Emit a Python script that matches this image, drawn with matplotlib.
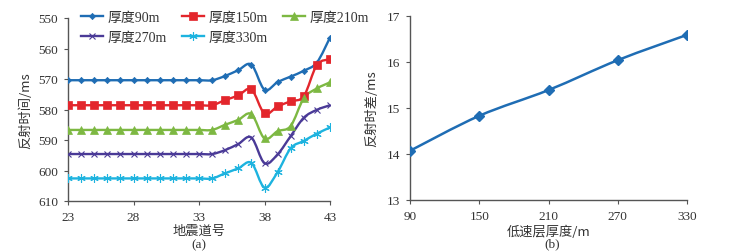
import matplotlib
matplotlib.use("Agg")
import matplotlib.pyplot as plt
import numpy as np
from matplotlib.path import Path
from matplotlib.patches import PathPatch
from matplotlib.lines import Line2D

# ---- data ----
traces = list(range(23, 44))
t90 = [570.4] * 12 + [569.0, 567.1, 565.3, 573.5, 571.0, 569.2, 567.3, 564.6, 556.4]
t150 = [578.6] * 12 + [576.9, 575.4, 573.4, 581.3, 579.0, 577.3, 575.6, 565.4, 563.5]
t210 = [586.7] * 12 + [585.0, 583.4, 581.5, 589.5, 587.1, 585.4, 576.3, 573.1, 571.1]
t270 = [594.6] * 12 + [593.3, 591.3, 589.2, 597.6, 594.7, 588.7, 582.7, 580.1, 578.6]
t330 = [602.6] * 12 + [600.9, 599.3, 597.5, 605.6, 600.5, 592.7, 590.3, 587.9, 585.9]
series_labels = ["厚度90m", "厚度150m", "厚度210m", "厚度270m", "厚度330m"]

thickness = [90, 150, 210, 270, 330]
diff = [14.07, 14.83, 15.39, 16.04, 16.59]

colors = ["#1f6db4", "#e3262c", "#7db842", "#4a3a97", "#1db3df"]
markers = ["D", "s", "^", "x", (6, 2, 0)]
msizes = [3.2, 6, 5.5, 5, 6]
mews = [0.5, 0.5, 0.5, 0.8, 0.8]

SERIF = ["Liberation Serif", "Noto Sans CJK SC"]
CJK = ["Noto Sans CJK SC", "Liberation Serif"]


def smooth_path(x, y):
    x = np.asarray(x, float)
    y = np.asarray(y, float)
    px = np.concatenate([[x[0]], x, [x[-1]]])
    py = np.concatenate([[y[0]], y, [y[-1]]])
    verts = [(x[0], y[0])]
    codes = [Path.MOVETO]
    for i in range(1, len(px) - 2):
        c1 = (px[i] + (px[i + 1] - px[i - 1]) / 6, py[i] + (py[i + 1] - py[i - 1]) / 6)
        c2 = (px[i + 1] - (px[i + 2] - px[i]) / 6, py[i + 1] - (py[i + 2] - py[i]) / 6)
        verts += [c1, c2, (px[i + 1], py[i + 1])]
        codes += [Path.CURVE4] * 3
    return Path(verts, codes)


fig = plt.figure(figsize=(7.45, 2.53), dpi=100)
W, H = 745, 253
axA = fig.add_axes([68 / W, 1 - 202 / H, (330 - 68) / W, (202 - 19) / H])
axB = fig.add_axes([410 / W, 1 - 201 / H, (687 - 410) / W, (201 - 17) / H])

spine_col = "#555555"
for ax in (axA, axB):
    for s in ("top", "right"):
        ax.spines[s].set_visible(False)
    for s in ("left", "bottom"):
        ax.spines[s].set_color(spine_col)
        ax.spines[s].set_linewidth(1.0)
    ax.tick_params(colors=spine_col, labelcolor="#333333", length=3, width=0.8,
                   labelsize=9.5, pad=4)

# ---- panel (a) ----
handles = []
for vals, c, m, ms, mw in zip([t90, t150, t210, t270, t330], colors, markers, msizes, mews):
    patch = PathPatch(smooth_path(traces, vals), fill=False, edgecolor=c, lw=1.7, zorder=2)
    axA.add_patch(patch)
    axA.plot(traces, vals, linestyle="none", marker=m, color=c, ms=ms, mew=mw, zorder=3)
    handles.append(Line2D([], [], color=c, lw=1.7, marker=m, ms=ms, mew=mw))

axA.set_xlim(23, 43)
axA.set_ylim(610, 550)
axA.set_xticks([23, 28, 33, 38, 43])
axA.set_yticks([550, 560, 570, 580, 590, 600, 610])
for lab in axA.get_xticklabels() + axA.get_yticklabels():
    lab.set_family(SERIF)
axA.set_ylabel("反射时间/ms", family=CJK, fontsize=9.5, color="#333333", labelpad=4)
axA.set_xlabel("地震道号", family=CJK, fontsize=9.5, color="#333333", labelpad=1)

# column-major fill: reorder so rows read 90,150,210 / 270,330
order = [0, 3, 1, 4, 2]
leg = axA.legend([handles[i] for i in order], [series_labels[i] for i in order],
                 ncol=3, loc="upper left", bbox_to_anchor=(0.05, 1.04),
                 frameon=False, fontsize=10, handlelength=1.6, handletextpad=0.3,
                 columnspacing=1.1, labelspacing=0.55, borderaxespad=0, borderpad=0)
for t in leg.get_texts():
    t.set_family(SERIF)
    t.set_color("#333333")
fig.text(199 / W, 1 - 245 / H, "(a)", ha="center", va="center", family=SERIF,
         fontsize=9.5, color="#333333")

# ---- panel (b) ----
axB.add_patch(PathPatch(smooth_path(thickness, diff), fill=False,
                        edgecolor=colors[0], lw=1.8, zorder=2))
axB.plot(thickness, diff, linestyle="none", marker="D", color=colors[0], ms=5, zorder=3)
axB.set_xlim(90, 330)
axB.set_ylim(13, 17)
axB.set_xticks(thickness)
axB.set_yticks([13, 14, 15, 16, 17])
for lab in axB.get_xticklabels() + axB.get_yticklabels():
    lab.set_family(SERIF)
axB.set_ylabel("反射时差/ms", family=CJK, fontsize=9.5, color="#333333", labelpad=6)
axB.set_xlabel("低速层厚度/m", family=CJK, fontsize=9.5, color="#333333", labelpad=2)
fig.text(552 / W, 1 - 244 / H, "(b)", ha="center", va="center", family=SERIF,
         fontsize=9.5, color="#333333")

fig.savefig("out.png", dpi=100)
